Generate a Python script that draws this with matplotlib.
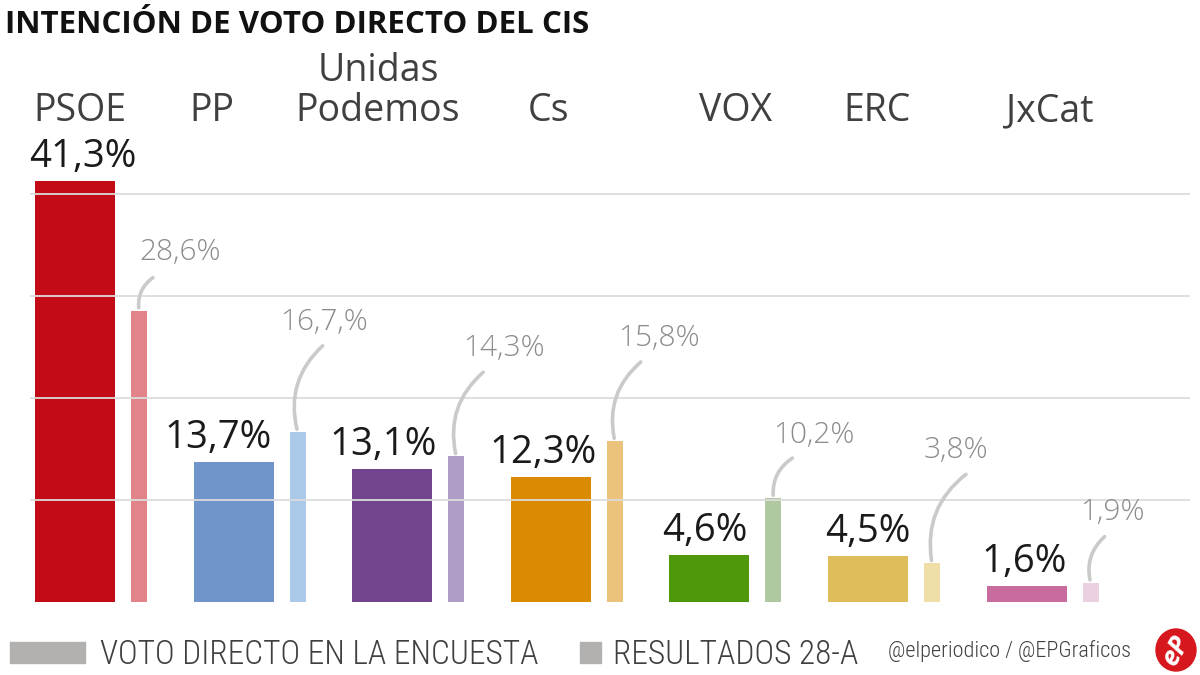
import matplotlib
matplotlib.use('Agg')
import matplotlib.pyplot as plt
from matplotlib import font_manager
from matplotlib.patches import Rectangle, Ellipse

parties = ['PSOE', 'PP', 'Unidas\nPodemos', 'Cs', 'VOX', 'ERC', 'JxCat']
survey = [41.3, 13.7, 13.1, 12.3, 4.6, 4.5, 1.6]
results = [28.6, 16.7, 14.3, 15.8, 10.2, 3.8, 1.9]
survey_labels = ['41,3%', '13,7%', '13,1%', '12,3%', '4,6%', '4,5%', '1,6%']
result_labels = ['28,6%', '16,7,%', '14,3%', '15,8%', '10,2%', '3,8%', '1,9%']

main_colors = ['#c30a17', '#7095cb', '#73448e', '#da8a03', '#4f980c', '#e0bd5b', '#c86c9f']
light_colors = ['#e2838a', '#aac8e7', '#ae9dc7', '#ebc37c', '#afc8a0', '#efdea8', '#ebd0e1']

# offsets (px) of the labels and of the start of the leader lines
survey_dx = [8, -15, -9, -8, -5, 0, -2]
label_off = [(41, 58), (26, 110), (48, 108), (44, 103), (40, 63), (24, 113), (22, 70)]
lead_off = [(14, 33), (25, 86), (27, 84), (26, 79), (19, 40), (34, 89), (14, 46)]
name_dx = [0.03, -0.136, -0.09, -0.015, 0.165, 0.06, 0.146]

fonts = font_manager.fontManager.ttflist
names = {f.name for f in fonts}
base = 'Open Sans' if 'Open Sans' in names else 'DejaVu Sans'


def has_regular(name):
    for f in fonts:
        if f.name == name and f.style == 'normal':
            w = f.weight if isinstance(f.weight, int) else {'light': 300, 'normal': 400, 'regular': 400}.get(f.weight, 700)
            if w <= 400:
                return True
    return False


cond = next((n for n in ['Open Sans Condensed', 'Roboto Condensed', 'Liberation Sans Narrow']
             if n in names and has_regular(n)), base)
plt.rcParams['font.family'] = [base, 'DejaVu Sans']

W, H = 1200, 675
PX = 10.19       # px per percentage point
GW = 158.6       # px per group
fig = plt.figure(figsize=(12, 6.75), dpi=100)
fig.patch.set_facecolor('white')
ax = fig.add_axes([30 / W, 73 / H, 1160 / W, 46 * PX / H])
ax.set_xlim((30 - 75) / GW, (1190 - 75) / GW)
ax.set_ylim(0, 46)
ax.axis('off')

for g in [10, 20, 30, 40]:
    ax.axhline(g, color='#dcdcdc', lw=1.3, zorder=3)

pt = 72 / 100
main_w = 80 / GW
small_w = 16 / GW
small_dx = 64 / GW
for i in range(len(parties)):
    ax.bar(i, survey[i], width=main_w, color=main_colors[i], zorder=2)
    ax.bar(i + small_dx, results[i], width=small_w, color=light_colors[i], zorder=2)
    ax.annotate(survey_labels[i], xy=(i, survey[i]), xytext=(survey_dx[i] * pt, 14 * pt),
                textcoords='offset points', ha='center', va='baseline',
                fontsize=27.5, color='#1a1a1a')
    lx, ly = label_off[i]
    ax.annotate(result_labels[i], xy=(i + small_dx, results[i]), xytext=(lx * pt, ly * pt),
                textcoords='offset points', ha='center', va='center',
                fontsize=21.5, color='#8c8c8c', fontweight='light')
    sx, sy = lead_off[i]
    ax.annotate('', xy=(i + small_dx, results[i]), xytext=(sx * pt, sy * pt),
                textcoords='offset points',
                arrowprops=dict(arrowstyle='-', color='#cacaca', lw=2.6,
                                connectionstyle='arc3,rad=0.3',
                                shrinkA=0, shrinkB=2))

# party names above the chart
name_y = 1 - 121 / H
for i, p in enumerate(parties):
    xf = (75 + (i + name_dx[i]) * GW) / W
    lines = p.split('\n')
    for k, line in enumerate(reversed(lines)):
        fig.text(xf, name_y + k * 40 / H, line, ha='center', va='baseline',
                 fontsize=27, color='#404040')

fig.text(5 / W, 1 - 10 / H, 'INTENCIÓN DE VOTO DIRECTO DEL CIS', ha='left', va='top',
         fontsize=22.5, fontweight='bold', color='#111111')

# legend
fig.patches.append(Rectangle((10 / W, 1 - 663 / H), 75 / W, 21 / H,
                             transform=fig.transFigure, color='#b3b0b0'))
fig.text(100 / W, 1 - 664 / H, 'VOTO DIRECTO EN LA ENCUESTA', ha='left', va='baseline',
         fontsize=24, color='#404040', family=[cond, 'DejaVu Sans'], fontweight='light')
fig.patches.append(Rectangle((580 / W, 1 - 663 / H), 21 / W, 21 / H,
                             transform=fig.transFigure, color='#b3b0b0'))
fig.text(613 / W, 1 - 664 / H, 'RESULTADOS 28-A', ha='left', va='baseline',
         fontsize=24, color='#404040', family=[cond, 'DejaVu Sans'], fontweight='light')
fig.text(888 / W, 1 - 657 / H, '@elperiodico / @EPGraficos', ha='left', va='baseline',
         fontsize=16, color='#404040', family=[cond, 'DejaVu Sans'], fontweight='light')

fig.patches.append(Ellipse((1176 / W, 1 - 650 / H), 40 / W, 42 / H,
                           transform=fig.transFigure, color='#d7171e'))
fig.text(1176 / W, 1 - 650 / H, 'eP', ha='center', va='center', rotation=60,
         fontsize=19, fontweight='bold', fontstyle='italic', color='white')

fig.savefig('out.png', dpi=100)
